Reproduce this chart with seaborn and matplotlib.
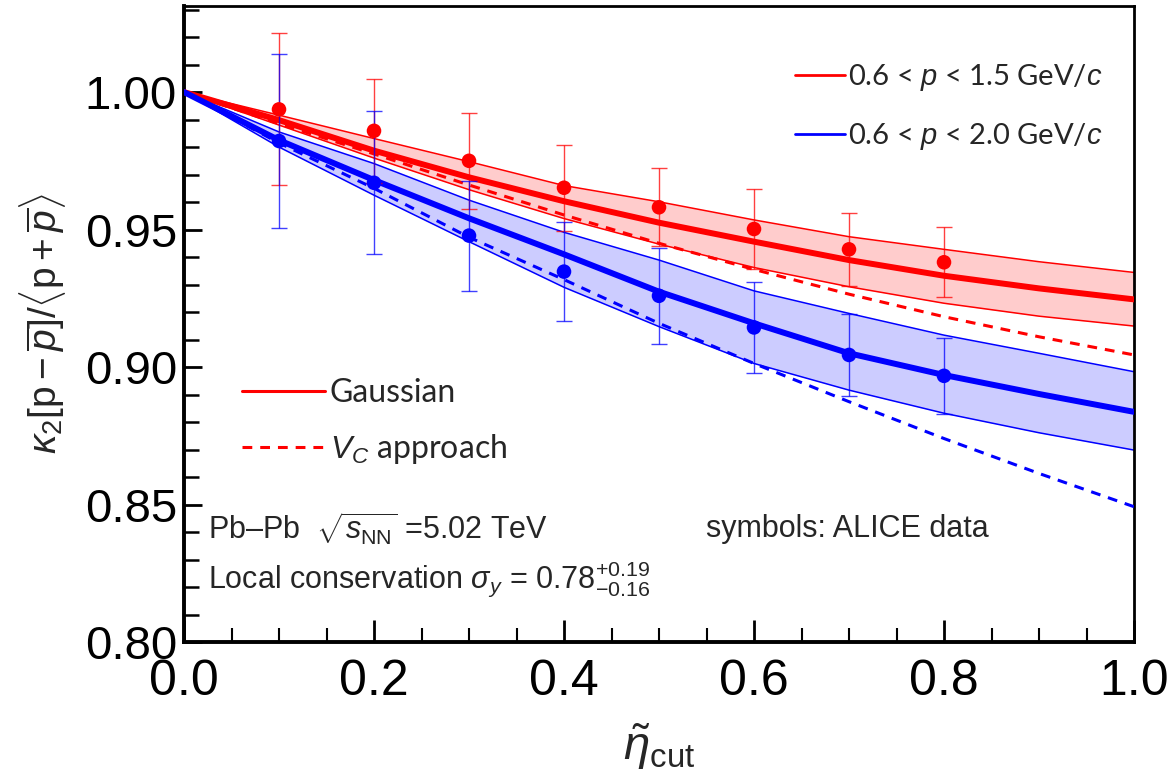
import numpy as np
import pandas as pd
import matplotlib
matplotlib.use("Agg")
import matplotlib.pyplot as plt
import seaborn as sns
from matplotlib import font_manager as fm
from matplotlib.ticker import MultipleLocator, FixedLocator
from matplotlib.lines import Line2D

# ---------------- data ----------------
eta_grid = [0.0, 0.1, 0.2, 0.3, 0.4, 0.5, 0.6, 0.7, 0.8, 0.9, 1.0]

red_gauss = [1.0, 0.9898, 0.9787, 0.9690, 0.9603, 0.9525, 0.9456, 0.9389, 0.9332, 0.9286, 0.9246]
red_upper = [1.0, 0.9916, 0.9831, 0.9747, 0.9660, 0.9601, 0.9535, 0.9474, 0.9428, 0.9383, 0.9344]
red_lower = [1.0, 0.9880, 0.9760, 0.9645, 0.9540, 0.9447, 0.9362, 0.9292, 0.9232, 0.9185, 0.9149]
red_vc = [1.0, 0.9885, 0.9775, 0.9662, 0.9553, 0.9450, 0.9355, 0.9265, 0.9183, 0.9110, 0.9044]

blue_gauss = [1.0, 0.9825, 0.9680, 0.9541, 0.9410, 0.9274, 0.9159, 0.9050, 0.8971, 0.8902, 0.8837]
blue_upper = [1.0, 0.9855, 0.9740, 0.9607, 0.9490, 0.9389, 0.9277, 0.9195, 0.9116, 0.9050, 0.8983]
blue_lower = [1.0, 0.9800, 0.9625, 0.9456, 0.9290, 0.9147, 0.9013, 0.8916, 0.8832, 0.8761, 0.8698]
blue_vc = [1.0, 0.9815, 0.9650, 0.9472, 0.9318, 0.9159, 0.9013, 0.8874, 0.8740, 0.8613, 0.8492]

eta_data = [0.1, 0.2, 0.3, 0.4, 0.5, 0.6, 0.7, 0.8]
red_data = [0.9937, 0.9859, 0.9750, 0.9652, 0.9581, 0.9502, 0.9428, 0.9381]
red_err = [0.0276, 0.0188, 0.0174, 0.0157, 0.0142, 0.0145, 0.0132, 0.0127]
blue_data = [0.9822, 0.9670, 0.9478, 0.9347, 0.9259, 0.9144, 0.9044, 0.8968]
blue_err = [0.0318, 0.0260, 0.0200, 0.0179, 0.0174, 0.0165, 0.0148, 0.0139]

x_ticks = [0.0, 0.2, 0.4, 0.6, 0.8, 1.0]
x_ticklabels = ["0.0", "0.2", "0.4", "0.6", "0.8", "1.0"]
y_ticks = [0.80, 0.85, 0.90, 0.95, 1.00]
y_ticklabels = ["0.80", "0.85", "0.90", "0.95", "1.00"]

legend_ranges = ["0.6 < $p$ < 1.5 GeV/$c$", "0.6 < $p$ < 2.0 GeV/$c$"]
legend_models = ["Gaussian", "$V_C$ approach"]

RED = "#ff0000"
BLUE = "#0000ff"

# ---------------- style ----------------
sns.set_theme(style="ticks")
plt.rcParams["font.family"] = ["Liberation Sans", "DejaVu Sans"]
plt.rcParams["mathtext.fontset"] = "custom"
plt.rcParams["mathtext.rm"] = "Liberation Sans"
plt.rcParams["mathtext.it"] = "Liberation Sans:italic"
plt.rcParams["mathtext.bf"] = "Liberation Sans:bold"
plt.rcParams["mathtext.sf"] = "Liberation Sans"

names = {f.name for f in fm.fontManager.ttflist}
if "Liberation Sans Narrow" in names:
    xtick_font = dict(family="Liberation Sans Narrow", size=42)
else:
    xtick_font = dict(family="Liberation Sans", size=36)
legend_family = "Lato" if "Lato" in names else "Liberation Sans"

W, H = 1168, 780
fig = plt.figure(figsize=(W / 100, H / 100), dpi=100)
ax = fig.add_axes([184 / W, 1 - 642 / H, (1134 - 184) / W, (642 - 6) / H])

df_curves = pd.DataFrame({
    "eta": eta_grid * 4,
    "val": red_gauss + red_vc + blue_gauss + blue_vc,
    "curve": ["rg"] * 11 + ["rv"] * 11 + ["bg"] * 11 + ["bv"] * 11,
})

# bands
ax.fill_between(eta_grid, red_lower, red_upper, color=RED, alpha=0.2, lw=0, zorder=1)
ax.fill_between(eta_grid, blue_lower, blue_upper, color=BLUE, alpha=0.2, lw=0, zorder=1)
for arr, c in [(red_upper, RED), (red_lower, RED), (blue_upper, BLUE), (blue_lower, BLUE)]:
    sns.lineplot(x=eta_grid, y=arr, color=c, lw=1.1, ax=ax, sort=False, estimator=None, zorder=2)

# central curves
sns.lineplot(data=df_curves[df_curves.curve == "rg"], x="eta", y="val", color=RED, lw=4.3,
             ax=ax, estimator=None, sort=False, zorder=4)
sns.lineplot(data=df_curves[df_curves.curve == "bg"], x="eta", y="val", color=BLUE, lw=4.3,
             ax=ax, estimator=None, sort=False, zorder=4)
sns.lineplot(data=df_curves[df_curves.curve == "rv"], x="eta", y="val", color=RED, lw=2.2,
             ax=ax, estimator=None, sort=False, zorder=3, dashes=False)
ax.lines[-1].set_dashes((3.2, 2.6))
sns.lineplot(data=df_curves[df_curves.curve == "bv"], x="eta", y="val", color=BLUE, lw=2.2,
             ax=ax, estimator=None, sort=False, zorder=3, dashes=False)
ax.lines[-1].set_dashes((3.2, 2.6))

# data
ax.errorbar(eta_data, red_data, yerr=red_err, fmt="none", ecolor=RED, elinewidth=1.0,
            capsize=6, capthick=1.0, alpha=0.75, zorder=5)
ax.errorbar(eta_data, blue_data, yerr=blue_err, fmt="none", ecolor=BLUE, elinewidth=1.0,
            capsize=6, capthick=1.0, alpha=0.75, zorder=5)
sns.scatterplot(x=eta_data, y=red_data, color=RED, s=110, edgecolor="none", ax=ax, zorder=6)
sns.scatterplot(x=eta_data, y=blue_data, color=BLUE, s=110, edgecolor="none", ax=ax, zorder=6)

# axes
ax.set_xlim(0.0, 1.0)
ax.set_ylim(0.80, 1.0313)
ax.xaxis.set_major_locator(FixedLocator(x_ticks))
ax.xaxis.set_minor_locator(MultipleLocator(0.05))
ax.yaxis.set_major_locator(FixedLocator(y_ticks))
ax.yaxis.set_minor_locator(MultipleLocator(0.01))
ax.set_xticklabels(x_ticklabels, **xtick_font)
ax.set_yticklabels(y_ticklabels, fontsize=34, family="Liberation Sans")
ax.tick_params(axis="both", which="both", direction="in", top=False, right=False, colors="black")
ax.tick_params(axis="x", which="major", length=16, width=2, pad=12)
ax.tick_params(axis="x", which="minor", length=10, width=1.5)
ax.tick_params(axis="y", which="major", length=13, width=2, pad=5)
ax.tick_params(axis="y", which="minor", length=11, width=1.8)
for side in ["left", "bottom", "top", "right"]:
    ax.spines[side].set_visible(True)
    ax.spines[side].set_color("black")
ax.spines["left"].set_linewidth(2.8)
ax.spines["bottom"].set_linewidth(2.8)
ax.spines["top"].set_linewidth(2.0)
ax.spines["right"].set_linewidth(2.0)
ax.set_facecolor("white")

ax.set_xlabel(r"$\tilde{\eta}_{\mathrm{cut}}$", fontsize=34, labelpad=12)
ax.set_ylabel(r"$\kappa_2[\mathrm{p}-\overline{p}]/\langle\mathrm{p}+\overline{p}\rangle$",
              fontsize=28, labelpad=12)

# legends
h1 = [Line2D([], [], color=RED, lw=2.0), Line2D([], [], color=BLUE, lw=2.0)]
leg1 = ax.legend(h1, legend_ranges, loc="upper left", bbox_to_anchor=(795 / W, 1 - 62 / H),
                 bbox_transform=fig.transFigure, frameon=False, handlelength=1.7,
                 handletextpad=0.1, labelspacing=0.95, borderaxespad=0, borderpad=0,
                 prop=dict(family=legend_family, size=21))
ax.add_artist(leg1)
h2 = [Line2D([], [], color=RED, lw=2.2), Line2D([], [], color=RED, lw=2.2, dashes=(3.2, 2.6))]
leg2 = ax.legend(h2, legend_models, loc="upper left", bbox_to_anchor=(242 / W, 1 - 378 / H),
                 bbox_transform=fig.transFigure, frameon=False, handlelength=2.6,
                 handletextpad=0.15, labelspacing=0.75, borderaxespad=0, borderpad=0,
                 prop=dict(family=legend_family, size=23))

# annotations
fig.text(208 / W, 1 - 529 / H, "Pb–Pb  $\\sqrt{s_{\\mathrm{NN}}}$ =5.02 TeV", fontsize=22,
         va="center", ha="left", family="Liberation Sans")
fig.text(706 / W, 1 - 529 / H, "symbols: ALICE data", fontsize=22, va="center", ha="left",
         family="Liberation Sans")
fig.text(208 / W, 1 - 579 / H, r"Local conservation $\sigma_y$ = 0.78$^{+0.19}_{-0.16}$",
         fontsize=22, va="center", ha="left", family="Liberation Sans")

fig.savefig("out.png", dpi=100, facecolor="white")
